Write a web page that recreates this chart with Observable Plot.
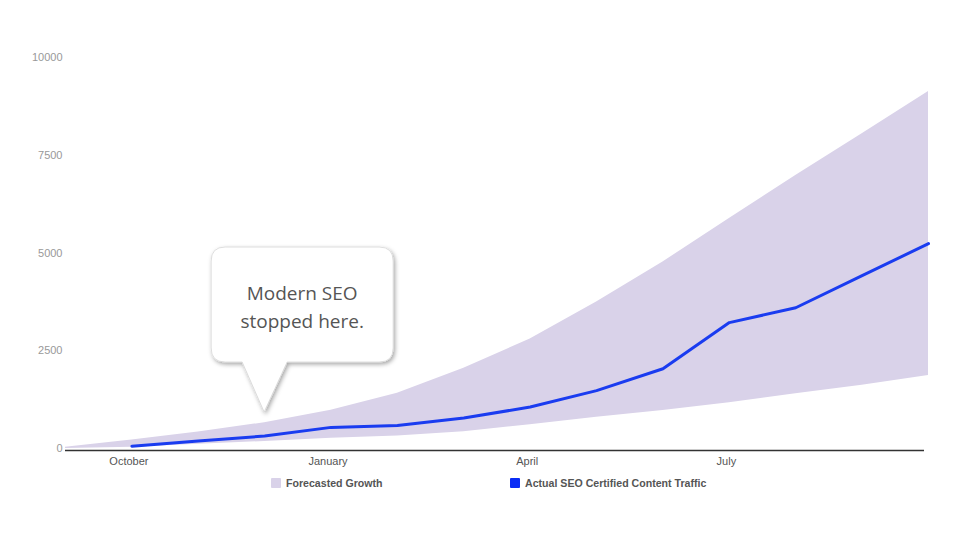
<!DOCTYPE html>
<html>
<head>
<meta charset="utf-8">
<script src="https://cdn.jsdelivr.net/npm/d3@7"></script>
<script src="https://cdn.jsdelivr.net/npm/@observablehq/plot@0.6"></script>
<style>
  html, body { margin: 0; padding: 0; background: #fff; }
  #wrap { position: relative; width: 960px; height: 540px; overflow: hidden; }
  #legend { position: absolute; top: 477px; left: 0; width: 960px; height: 16px;
    font-family: "Liberation Sans", Arial, sans-serif; font-size: 10.6px; font-weight: bold; color: #555; }
  .item { position: absolute; top: 0; display: flex; align-items: center; white-space: nowrap; }
  .sw { width: 10px; height: 10px; margin-right: 5px; border-radius: 1px; }
</style>
</head>
<body>
<div id="wrap">
  <div id="chart"></div>
  <div id="legend"></div>
</div>
<script>
// ---- data ----
const months = ["Sep","Oct","Nov","Dec","Jan","Feb","Mar","Apr","May","Jun","Jul","Aug","Sep","Oct"];
const forecastLow  = [0, 30, 110, 180, 260, 320, 430, 610, 800, 970, 1170, 1400, 1620, 1870];
const forecastHigh = [30, 220, 420, 660, 980, 1410, 2050, 2800, 3750, 4770, 5880, 6980, 8050, 9130];
const actualTraffic = [null, 60, 190, 320, 540, 590, 780, 1060, 1480, 2040, 3220, 3600, 4420, 5240];
const xTickIndex = [1, 4, 7, 10];
const xTickLabels = ["October", "January", "April", "July"];
const yTicks = [0, 2500, 5000, 7500, 10000];
const seriesNames = ["Forecasted Growth", "Actual SEO Certified Content Traffic"];
const calloutLines = ["Modern SEO", "stopped here."];
const calloutIndex = 3;
const calloutValue = 920;

const areaColor = "#d9d2e9";
const lineColor = "#1a3cf0";

(function () {
const rows = months.map((m, i) => ({i, month: m, low: forecastLow[i], high: forecastHigh[i], actual: actualTraffic[i]}));

const plot = Plot.plot({
  width: 960,
  height: 540,
  marginLeft: 65,
  marginRight: 32,
  marginTop: 57,
  marginBottom: 92,
  style: {fontFamily: "'Liberation Sans', Arial, sans-serif", fontSize: "11px", background: "#fff"},
  x: {type: "linear", domain: [0, 13], label: null},
  y: {domain: [0, 10000], label: null},
  marks: [
    Plot.areaY(rows, {x: "i", y1: "low", y2: "high", fill: areaColor, curve: "linear"}),
    Plot.lineY(rows.filter(d => d.actual != null), {x: "i", y: "actual", stroke: lineColor, strokeWidth: 3, curve: "linear"}),
    Plot.ruleY([0], {stroke: "#333", strokeWidth: 1.5, dy: 2, insetRight: 4}),
    Plot.axisY({ticks: yTicks, tickSize: 0, tickPadding: 3, tickFormat: d => String(d), fill: "#999", label: null}),
    Plot.axisX({ticks: xTickIndex, tickSize: 0, tickPadding: 9, tickFormat: d => xTickLabels[xTickIndex.indexOf(d)], fill: "#555", label: null, dx: -3})
  ]
});
document.getElementById("chart").appendChild(plot);

// ---- callout anchored to data through scales ----
const sx = plot.scale("x"), sy = plot.scale("y");
const tipX = sx.apply(calloutIndex), tipY = sy.apply(calloutValue);
const bl = tipX - 53, br = tipX + 129, bt = tipY - 165, bb = tipY - 50, r = 14;
const svg = d3.select(plot);
const defs = svg.append("defs");
const f = defs.append("filter").attr("id", "shadow").attr("x", "-20%").attr("y", "-20%").attr("width", "150%").attr("height", "150%");
f.append("feDropShadow").attr("dx", 1.5).attr("dy", 2).attr("stdDeviation", 2).attr("flood-color", "#000").attr("flood-opacity", 0.35);
const path = `M${bl + r},${bt} H${br - r} Q${br},${bt} ${br},${bt + r} V${bb - r} Q${br},${bb} ${br - r},${bb} H${tipX + 23} L${tipX},${tipY} L${tipX - 22},${bb} H${bl + r} Q${bl},${bb} ${bl},${bb - r} V${bt + r} Q${bl},${bt} ${bl + r},${bt} Z`;
svg.append("path").attr("d", path).attr("fill", "#fff").attr("stroke", "#d6d6d6").attr("stroke-width", 0.8).attr("filter", "url(#shadow)");
const cx = (bl + br) / 2;
calloutLines.forEach((t, k) => {
  svg.append("text").attr("x", cx).attr("y", bt + 53 + k * 28).attr("text-anchor", "middle")
    .attr("font-family", "'Open Sans', sans-serif").attr("font-size", 19).attr("fill", "#555").text(t);
});

// ---- legend ----
const legend = document.getElementById("legend");
const legendPos = [271, 510];
[areaColor, "#0a2cf5"].forEach((c, k) => {
  const it = document.createElement("div");
  it.className = "item";
  it.style.left = legendPos[k] + "px";
  it.innerHTML = `<span class="sw" style="background:${c}"></span><span>${seriesNames[k]}</span>`;
  legend.appendChild(it);
});
})();
</script>
</body>
</html>
